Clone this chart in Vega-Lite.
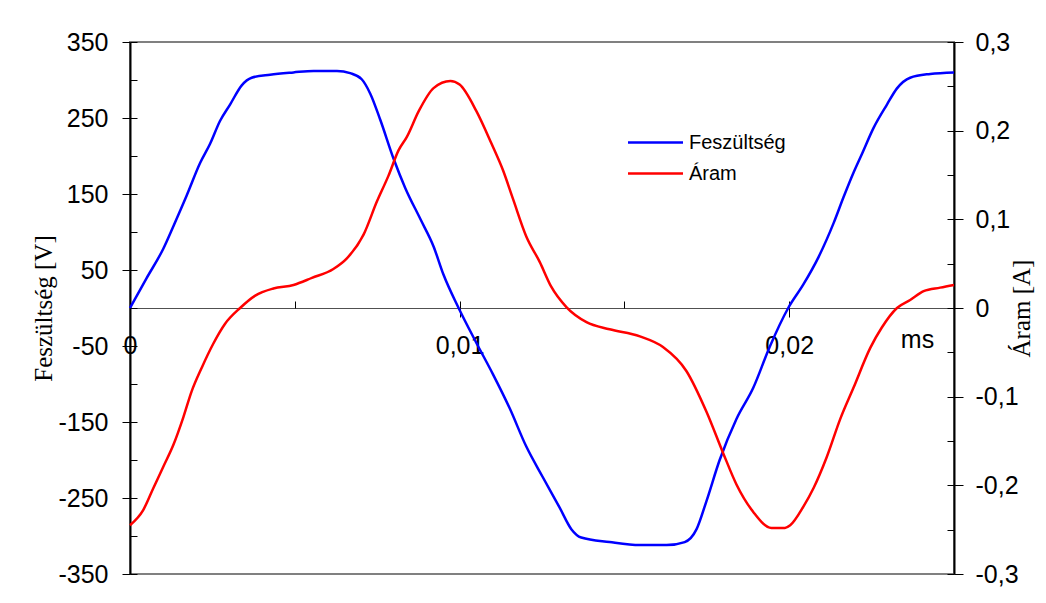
{
  "$schema": "https://vega.github.io/schema/vega-lite/v6.json",
  "autosize": {"type": "none"},
  "padding": {"left": 130, "top": 42, "right": 92, "bottom": 29},
  "width": 824,
  "height": 532,
  "background": "white",
  "config": {
    "view": {"stroke": "#808080", "strokeWidth": 2},
    "axis": {
      "grid": false,
      "labelFont": "Liberation Sans",
      "labelFontSize": 25,
      "labelColor": "black",
      "tickColor": "black",
      "tickWidth": 1,
      "titleColor": "black",
      "titleFontWeight": "normal",
      "labelOverlap": false,
      "labelFlush": false
    },
    "legend": {
      "labelFont": "Liberation Sans",
      "labelFontSize": 20,
      "labelColor": "black",
      "padding": 0
    }
  },
  "datasets": {
    "feszultseg": [
      {"t": 0, "V": 0}, {"t": 0.0005, "V": 39}, {"t": 0.00101, "V": 78}, {"t": 0.00132, "V": 108},
      {"t": 0.00172, "V": 148}, {"t": 0.00213, "V": 191}, {"t": 0.00243, "V": 216}, {"t": 0.00273, "V": 246},
      {"t": 0.00304, "V": 268}, {"t": 0.00339, "V": 293}, {"t": 0.00369, "V": 303}, {"t": 0.00425, "V": 307},
      {"t": 0.00496, "V": 310}, {"t": 0.00557, "V": 312}, {"t": 0.00628, "V": 312}, {"t": 0.00668, "V": 309},
      {"t": 0.00703, "V": 301}, {"t": 0.00729, "V": 282}, {"t": 0.00759, "V": 248}, {"t": 0.008, "V": 196},
      {"t": 0.00835, "V": 158}, {"t": 0.00881, "V": 117}, {"t": 0.00921, "V": 81}, {"t": 0.00951, "V": 44},
      {"t": 0.00997, "V": 0}, {"t": 0.01051, "V": -46}, {"t": 0.01101, "V": -87}, {"t": 0.01152, "V": -132},
      {"t": 0.01202, "V": -182}, {"t": 0.01253, "V": -223}, {"t": 0.01304, "V": -263}, {"t": 0.01339, "V": -291},
      {"t": 0.01369, "V": -302}, {"t": 0.01455, "V": -308}, {"t": 0.01547, "V": -312}, {"t": 0.01628, "V": -312},
      {"t": 0.01683, "V": -308}, {"t": 0.01719, "V": -291}, {"t": 0.01749, "V": -254}, {"t": 0.01789, "V": -200},
      {"t": 0.0184, "V": -146}, {"t": 0.01891, "V": -105}, {"t": 0.01941, "V": -51}, {"t": 0.01997, "V": 0},
      {"t": 0.02043, "V": 31}, {"t": 0.02089, "V": 67}, {"t": 0.02135, "V": 112}, {"t": 0.02165, "V": 146},
      {"t": 0.02195, "V": 178}, {"t": 0.02221, "V": 203}, {"t": 0.02256, "V": 237}, {"t": 0.02297, "V": 268},
      {"t": 0.02327, "V": 289}, {"t": 0.02367, "V": 303}, {"t": 0.02428, "V": 308}, {"t": 0.025, "V": 310}
    ],
    "aram": [
      {"t": 0, "I": -0.245}, {"t": 0.0004, "I": -0.228}, {"t": 0.00071, "I": -0.203}, {"t": 0.00101, "I": -0.179},
      {"t": 0.00132, "I": -0.154}, {"t": 0.00162, "I": -0.123}, {"t": 0.00187, "I": -0.094}, {"t": 0.00218, "I": -0.067},
      {"t": 0.00253, "I": -0.04}, {"t": 0.00288, "I": -0.018}, {"t": 0.00334, "I": 0}, {"t": 0.0038, "I": 0.014},
      {"t": 0.00435, "I": 0.022}, {"t": 0.00496, "I": 0.026}, {"t": 0.00552, "I": 0.034}, {"t": 0.00617, "I": 0.044},
      {"t": 0.00658, "I": 0.056}, {"t": 0.00709, "I": 0.083}, {"t": 0.00749, "I": 0.12}, {"t": 0.00784, "I": 0.149},
      {"t": 0.00815, "I": 0.178}, {"t": 0.0084, "I": 0.193}, {"t": 0.00876, "I": 0.222}, {"t": 0.00921, "I": 0.248},
      {"t": 0.00972, "I": 0.256}, {"t": 0.01, "I": 0.252}, {"t": 0.01051, "I": 0.222}, {"t": 0.01096, "I": 0.186},
      {"t": 0.01132, "I": 0.155}, {"t": 0.01162, "I": 0.123}, {"t": 0.01202, "I": 0.081}, {"t": 0.01243, "I": 0.052},
      {"t": 0.01278, "I": 0.024}, {"t": 0.01324, "I": 0.001}, {"t": 0.01385, "I": -0.016}, {"t": 0.01455, "I": -0.024},
      {"t": 0.01547, "I": -0.032}, {"t": 0.01617, "I": -0.044}, {"t": 0.01688, "I": -0.071}, {"t": 0.01749, "I": -0.117},
      {"t": 0.018, "I": -0.164}, {"t": 0.0184, "I": -0.199}, {"t": 0.01891, "I": -0.23}, {"t": 0.01946, "I": -0.248},
      {"t": 0.01987, "I": -0.248}, {"t": 0.02003, "I": -0.245}, {"t": 0.02043, "I": -0.224}, {"t": 0.02074, "I": -0.203},
      {"t": 0.02114, "I": -0.168}, {"t": 0.02155, "I": -0.125}, {"t": 0.02195, "I": -0.09}, {"t": 0.02246, "I": -0.045},
      {"t": 0.02281, "I": -0.022}, {"t": 0.02327, "I": 0}, {"t": 0.02367, "I": 0.009}, {"t": 0.02408, "I": 0.019},
      {"t": 0.02458, "I": 0.023}, {"t": 0.025, "I": 0.026}
    ]
  },
  "layer": [
    {
      "data": {"name": "feszultseg"},
      "mark": {"type": "line", "strokeWidth": 2.5, "interpolate": "monotone"},
      "encoding": {
        "x": {
          "field": "t", "type": "quantitative",
          "scale": {"domain": [0, 0.025], "nice": false, "zero": false},
          "axis": {
            "orient": "bottom", "offset": -266,
            "values": [0, 0.01, 0.02],
            "tickSize": 9, "labelPadding": 16,
            "domainColor": "#505050", "domainWidth": 1.2,
            "labelExpr": "replace(toString(datum.value), '.', ',')",
            "title": "ms", "titleFont": "Liberation Sans", "titleFontSize": 25,
            "titleX": 787, "titleY": 31, "titleAlign": "center", "titleBaseline": "middle", "titleAngle": 0
          }
        },
        "y": {
          "field": "V", "type": "quantitative",
          "scale": {"domain": [-350, 350], "nice": false, "zero": false},
          "axis": {
            "orient": "left",
            "values": [-350, -250, -150, -50, 50, 150, 250, 350],
            "tickSize": 8, "labelPadding": 14,
            "labelExpr": "toString(datum.value)",
            "domainColor": "black", "domainWidth": 2,
            "title": "Feszültség [V]", "titleFont": "Liberation Serif", "titleFontSize": 25,
            "titleAngle": 270, "titleX": -87, "titleY": 266, "titleAlign": "center", "titleBaseline": "middle"
          }
        },
        "color": {
          "datum": "Feszültség",
          "scale": {"domain": ["Feszültség", "Áram"], "range": ["#0000ff", "#ff0000"]},
          "legend": {
            "title": null, "orient": "none", "legendX": 513, "legendY": 88,
            "symbolType": "M-2.5,0H2.5", "symbolSize": 484, "symbolStrokeWidth": 2.5,
            "labelOffset": 21, "rowPadding": 8
          }
        }
      }
    },
    {
      "data": {"name": "aram"},
      "mark": {"type": "line", "strokeWidth": 2.5, "interpolate": "monotone"},
      "encoding": {
        "x": {
          "field": "t", "type": "quantitative",
          "scale": {"domain": [0, 0.025], "nice": false, "zero": false},
          "axis": {
            "orient": "bottom", "offset": -266,
            "values": [0, 0.005, 0.01, 0.015, 0.02, 0.025],
            "tickSize": -7, "labels": false, "domain": false, "title": null
          }
        },
        "y": {
          "field": "I", "type": "quantitative",
          "scale": {"domain": [-0.3, 0.3], "nice": false, "zero": false},
          "axis": {
            "orient": "right",
            "values": [-0.3, -0.2, -0.1, 0, 0.1, 0.2, 0.3],
            "tickSize": 9, "labelPadding": 12,
            "domainColor": "black", "domainWidth": 2,
            "labelExpr": "replace(toString(datum.value), '.', ',')",
            "title": "Áram [A]", "titleFont": "Liberation Serif", "titleFontSize": 25,
            "titleAngle": 270, "titleX": 67, "titleY": 266, "titleAlign": "center", "titleBaseline": "middle"
          }
        },
        "color": {"datum": "Áram"}
      }
    },
    {
      "data": {"name": "feszultseg"},
      "mark": {"type": "line", "strokeOpacity": 0},
      "encoding": {
        "x": {"field": "t", "type": "quantitative", "scale": {"domain": [0, 0.025], "nice": false, "zero": false}, "axis": null},
        "y": {
          "field": "V", "type": "quantitative",
          "scale": {"domain": [-350, 350], "nice": false, "zero": false},
          "axis": {
            "orient": "left",
            "values": [-350, -300, -250, -200, -150, -100, -50, 0, 50, 100, 150, 200, 250, 300, 350],
            "tickSize": -7, "labels": false, "domain": false, "title": null
          }
        }
      }
    },
    {
      "data": {"name": "aram"},
      "mark": {"type": "line", "strokeOpacity": 0},
      "encoding": {
        "x": {"field": "t", "type": "quantitative", "scale": {"domain": [0, 0.025], "nice": false, "zero": false}, "axis": null},
        "y": {
          "field": "I", "type": "quantitative",
          "scale": {"domain": [-0.3, 0.3], "nice": false, "zero": false},
          "axis": {
            "orient": "right",
            "values": [-0.3, -0.25, -0.2, -0.15, -0.1, -0.05, 0, 0.05, 0.1, 0.15, 0.2, 0.25, 0.3],
            "tickSize": -7, "labels": false, "domain": false, "title": null
          }
        }
      }
    }
  ],
  "resolve": {"scale": {"x": "independent", "y": "independent"}}
}
